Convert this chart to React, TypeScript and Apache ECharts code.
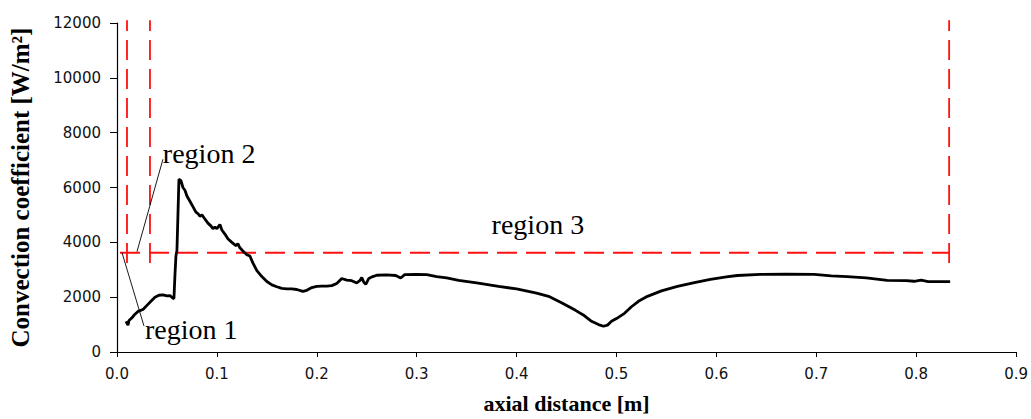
import React, { useEffect, useRef } from "react";
import * as echarts from "echarts";

const xTicks = [0, 0.1, 0.2, 0.3, 0.4, 0.5, 0.6, 0.7, 0.8, 0.9];

const curveX = [
  0.009, 0.011, 0.012, 0.015, 0.018, 0.021, 0.026, 0.03, 0.034, 0.038, 0.042, 0.046, 0.05, 0.053, 0.056, 0.057,
  0.058, 0.059, 0.06, 0.061, 0.062, 0.064, 0.066, 0.068, 0.07, 0.073, 0.076, 0.079, 0.081, 0.083, 0.085, 0.088,
  0.091, 0.094, 0.096, 0.098, 0.1, 0.103, 0.105, 0.108, 0.111, 0.115, 0.119, 0.121, 0.123, 0.127, 0.13, 0.133,
  0.136, 0.14, 0.145, 0.15, 0.155, 0.16, 0.165, 0.17, 0.175, 0.18, 0.186, 0.19, 0.195, 0.2, 0.205, 0.21, 0.215,
  0.22, 0.225, 0.23, 0.235, 0.24, 0.243, 0.245, 0.247, 0.249, 0.252, 0.256, 0.26, 0.27, 0.279, 0.284, 0.288, 0.3,
  0.31, 0.32, 0.33, 0.342, 0.36, 0.382, 0.4, 0.42, 0.432, 0.445, 0.459, 0.468, 0.475, 0.482, 0.487, 0.491, 0.495,
  0.5, 0.508, 0.515, 0.522, 0.531, 0.545, 0.561, 0.578, 0.594, 0.61, 0.621, 0.644, 0.67, 0.698, 0.715, 0.731,
  0.75, 0.771, 0.79, 0.798, 0.805, 0.812, 0.834,
];
const curveY = [
  1120, 980, 1150, 1250, 1380, 1480, 1550, 1700, 1850, 2000, 2070, 2080, 2050, 2060, 1960, 1950,
  2800, 3500, 3700, 5000, 6300, 6250, 6000, 5900, 5690, 5500, 5300, 5100, 5050, 4950, 5000, 4850,
  4700, 4600, 4500, 4550, 4500, 4650, 4450, 4300, 4130, 4000, 3880, 3950, 3800, 3650, 3550, 3500,
  3250, 2970, 2750, 2570, 2450, 2380, 2320, 2300, 2300, 2280, 2210, 2250, 2350, 2390, 2400, 2400, 2420,
  2500, 2680, 2620, 2600, 2520, 2600, 2720, 2550, 2470, 2680, 2750, 2800, 2810, 2790, 2700, 2820, 2830,
  2820, 2750, 2700, 2610, 2520, 2390, 2300, 2150, 2030, 1800, 1520, 1320, 1120, 1000, 940, 980, 1120,
  1220, 1410, 1650, 1850, 2030, 2230, 2390, 2530, 2650, 2740, 2790, 2830, 2840, 2830, 2780, 2750,
  2700, 2610, 2600, 2580, 2620, 2570, 2570,
];

// red dashed region boundaries (data coords)
const regionVerticalX = [0.01, 0.033, 0.833];
const regionVerticalY = [3250, 12100];
const regionHorizontalX = [0.003, 0.833];
const regionHorizontalY = 3620;

// leader lines for labels
const leader2 = [[0.02, 3660], [0.046, 7030]];
const leader1 = [[0.005, 3625], [0.027, 950]];

const regionLabels = ["region 1", "region 2", "region 3"];
const regionLabelPos = [[0.028, 834], [0.0459, 7250], [0.375, 4640]];

export default function App() {
  const ref = useRef<HTMLDivElement>(null);
  useEffect(() => {
    if (!ref.current) return;
    const chart = echarts.init(ref.current, null, { renderer: "svg" });
    const red = "#ff1010";
    const redLine = (data: number[][]) => ({
      type: "line",
      data,
      symbol: "none",
      clip: false,
      silent: true,
      lineStyle: { color: red, width: 1.8, type: [20, 9] },
    });
    const series: any[] = [
      {
        type: "line",
        data: curveX.map((x, i) => [x, curveY[i]]),
        symbol: "none",
        lineStyle: { color: "#000", width: 2.8 },
        z: 5,
      },
      ...regionVerticalX.map((x) => redLine(regionVerticalY.map((y) => [x, y]))),
      redLine(regionHorizontalX.map((x) => [x, regionHorizontalY])),
      { type: "line", data: leader2, symbol: "none", clip: false, lineStyle: { color: "#000", width: 0.9 } },
      { type: "line", data: leader1, symbol: "none", clip: false, lineStyle: { color: "#000", width: 0.9 } },
    ];
    const option: any = {
      animation: false,
      grid: { left: 117, right: 11, top: 23, bottom: 65 },
      xAxis: {
        type: "value",
        min: 0,
        max: 0.9,
        interval: 0.1,
        name: "axial distance [m]",
        nameLocation: "middle",
        nameGap: 40,
        nameTextStyle: { fontFamily: "Liberation Serif", fontWeight: "bold", fontSize: 22, color: "#000" },
        axisLine: { lineStyle: { color: "#000", width: 1.2 } },
        axisTick: { length: 5, lineStyle: { color: "#000" } },
        axisLabel: {
          fontFamily: "DejaVu Sans",
          fontSize: 15,
          color: "#111",
          margin: 14,
          formatter: (v: number) => v.toFixed(1),
        },
        splitLine: { show: false },
      },
      yAxis: {
        type: "value",
        min: 0,
        max: 12000,
        interval: 2000,
        name: "Convection coefficient [W/m²]",
        nameLocation: "middle",
        nameGap: 84,
        nameTextStyle: { fontFamily: "Liberation Serif", fontWeight: "bold", fontSize: 25, color: "#000" },
        axisLine: { show: true, lineStyle: { color: "#000", width: 1.2 } },
        axisTick: { show: true, length: 7, lineStyle: { color: "#000" } },
        axisLabel: {
          fontFamily: "DejaVu Sans",
          fontSize: 15,
          color: "#111",
          margin: 16,
          formatter: (v: number) => String(v),
        },
        splitLine: { show: false },
      },
      series,
    };
    chart.setOption(option);
    const graphics = regionLabels.map((t, i) => {
      const p = chart.convertToPixel({ gridIndex: 0 }, regionLabelPos[i]) as number[];
      return {
        type: "text",
        x: p[0],
        y: p[1],
        style: {
          text: t,
          fontFamily: "Liberation Serif",
          fontSize: 28,
          fill: "#000",
          align: "left",
          verticalAlign: "middle",
        },
        z: 10,
      };
    });
    chart.setOption({ graphic: graphics });
    return () => chart.dispose();
  }, []);
  return <div ref={ref} style={{ width: 1031, height: 419, position: "absolute", left: 0, top: 0, background: "#fff" }} />;
}
